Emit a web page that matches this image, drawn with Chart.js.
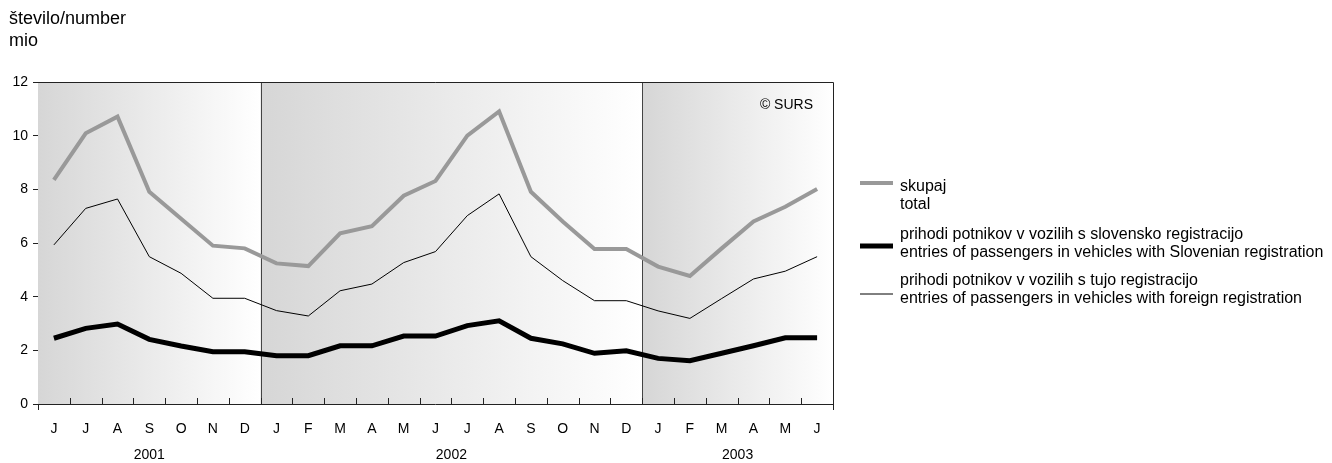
<!DOCTYPE html>
<html>
<head>
<meta charset="utf-8">
<script src="https://cdn.jsdelivr.net/npm/chart.js@4"></script>
<style>
  html, body { margin: 0; padding: 0; background: #fff; }
  #wrap { position: relative; width: 1332px; height: 463px; }
</style>
</head>
<body>
<div id="wrap"><canvas id="c" width="1332" height="463"></canvas></div>
<script>
const months = ['J','J','A','S','O','N','D','J','F','M','A','M','J','J','A','S','O','N','D','J','F','M','A','M','J'];
const years = [
  { label: '2001', from: 0, to: 6 },
  { label: '2002', from: 7, to: 18 },
  { label: '2003', from: 19, to: 24 }
];
const total = [8.35, 10.09, 10.71, 7.91, 6.9, 5.9, 5.8, 5.24, 5.14, 6.36, 6.63, 7.76, 8.31, 10.0, 10.9, 7.91, 6.8, 5.78, 5.78, 5.12, 4.77, 5.8, 6.8, 7.35, 8.01];
const slovenian = [2.45, 2.82, 2.98, 2.41, 2.16, 1.95, 1.95, 1.8, 1.8, 2.17, 2.17, 2.53, 2.53, 2.92, 3.1, 2.45, 2.24, 1.89, 1.98, 1.7, 1.61, 1.89, 2.17, 2.47, 2.47];
const foreign = [5.93, 7.29, 7.64, 5.49, 4.87, 3.94, 3.94, 3.48, 3.28, 4.22, 4.47, 5.27, 5.68, 7.02, 7.83, 5.49, 4.6, 3.85, 3.85, 3.47, 3.19, 3.93, 4.66, 4.95, 5.49];
const legendLabels = [
  ['skupaj', 'total'],
  ['prihodi potnikov v vozilih s slovensko registracijo', 'entries of passengers in vehicles with Slovenian registration'],
  ['prihodi potnikov v vozilih s tujo registracijo', 'entries of passengers in vehicles with foreign registration']
];
const axisTitle = ['število/number', 'mio'];
const copyright = '© SURS';

const FONT = '"Liberation Sans", Arial, sans-serif';

const decor = {
  id: 'decor',
  beforeDatasetsDraw(chart) {
    const { ctx, chartArea: a, scales: { x } } = chart;
    const half = (x.getPixelForValue(1) - x.getPixelForValue(0)) / 2;
    ctx.save();
    years.forEach(yr => {
      const l = x.getPixelForValue(yr.from) - half;
      const r = x.getPixelForValue(yr.to) + half;
      const g = ctx.createLinearGradient(l, 0, r, 0);
      g.addColorStop(0, '#d6d6d6');
      g.addColorStop(1, '#ffffff');
      ctx.fillStyle = g;
      ctx.fillRect(l, a.top, r - l, a.bottom - a.top);
    });
    ctx.strokeStyle = '#444';
    ctx.lineWidth = 1;
    years.slice(1).forEach(yr => {
      const px = Math.round(x.getPixelForValue(yr.from) - half) + 0.5;
      ctx.beginPath(); ctx.moveTo(px, a.top); ctx.lineTo(px, a.bottom); ctx.stroke();
    });
    ctx.strokeStyle = '#222';
    ctx.beginPath();
    ctx.moveTo(a.left, Math.round(a.top) + 0.5);
    ctx.lineTo(Math.round(a.right) + 0.5, Math.round(a.top) + 0.5);
    ctx.lineTo(Math.round(a.right) + 0.5, a.bottom + 6);
    ctx.stroke();
    ctx.beginPath();
    ctx.moveTo(a.left, Math.round(a.bottom) + 0.5);
    ctx.lineTo(a.right, Math.round(a.bottom) + 0.5);
    ctx.stroke();
    for (let i = 1; i < months.length; i++) {
      const px = Math.round(x.getPixelForValue(i) - half) + 0.5;
      ctx.beginPath(); ctx.moveTo(px, a.bottom - 6); ctx.lineTo(px, a.bottom); ctx.stroke();
    }
    const lx = Math.round(a.left) + 0.5;
    ctx.beginPath(); ctx.moveTo(lx, a.bottom); ctx.lineTo(lx, a.bottom + 6); ctx.stroke();
    ctx.restore();
  },
  afterDraw(chart) {
    const { ctx, chartArea: a, scales: { x } } = chart;
    const half = (x.getPixelForValue(1) - x.getPixelForValue(0)) / 2;
    ctx.save();
    ctx.fillStyle = '#000';
    ctx.font = '14px ' + FONT;
    ctx.textBaseline = 'middle';
    ctx.textAlign = 'center';
    years.forEach(yr => {
      const l = x.getPixelForValue(yr.from) - half;
      const r = x.getPixelForValue(yr.to) + half;
      ctx.fillText(yr.label, (l + r) / 2, 455);
    });
    ctx.textAlign = 'left';
    ctx.font = '18px ' + FONT;
    ctx.fillText(axisTitle[0], 9, 19);
    ctx.fillText(axisTitle[1], 9, 41);
    ctx.font = '14px ' + FONT;
    ctx.textAlign = 'right';
    ctx.fillText(copyright, a.right - 20, 105);
    ctx.textAlign = 'left';
    ctx.font = '16px ' + FONT;
    const ds = chart.data.datasets;
    const rows = [
      { line: 183, t1: 187, t2: 205 },
      { line: 246, t1: 235, t2: 253 },
      { line: 294, t1: 281, t2: 299 }
    ];
    rows.forEach((r, i) => {
      ctx.strokeStyle = ds[i].borderColor;
      ctx.lineWidth = ds[i].borderWidth;
      ctx.beginPath(); ctx.moveTo(860, r.line); ctx.lineTo(893, r.line); ctx.stroke();
      ctx.fillStyle = '#000';
      ctx.fillText(legendLabels[i][0], 900, r.t1);
      ctx.fillText(legendLabels[i][1], 900, r.t2);
    });
    ctx.restore();
  }
};

new Chart(document.getElementById('c'), {
  type: 'line',
  data: {
    labels: months,
    datasets: [
      { label: legendLabels[0].join(' '), data: total, borderColor: '#999999', borderWidth: 4, pointRadius: 0, tension: 0, order: 3 },
      { label: legendLabels[1].join(' '), data: slovenian, borderColor: '#000000', borderWidth: 5, pointRadius: 0, tension: 0, order: 1 },
      { label: legendLabels[2].join(' '), data: foreign, borderColor: '#000000', borderWidth: 1, pointRadius: 0, tension: 0, order: 2 }
    ]
  },
  options: {
    responsive: false,
    animation: false,
    layout: { padding: { left: 10, top: 82, right: 499, bottom: 0 } },
    plugins: { legend: { display: false }, tooltip: { enabled: false } },
    scales: {
      x: {
        offset: true,
        grid: { display: false },
        border: { display: false },
        ticks: { color: '#000', font: { family: FONT, size: 14 }, padding: 9, maxRotation: 0, autoSkip: false },
        afterFit(s) { s.height = 59; }
      },
      y: {
        min: 0, max: 12,
        grid: { drawOnChartArea: false, tickLength: 5, color: '#222' },
        border: { display: true, color: '#222' },
        ticks: { stepSize: 2, color: '#000', font: { family: FONT, size: 14 }, padding: 5 },
        afterFit(s) { s.width = 28; }
      }
    }
  },
  plugins: [decor]
});
</script>
</body>
</html>
